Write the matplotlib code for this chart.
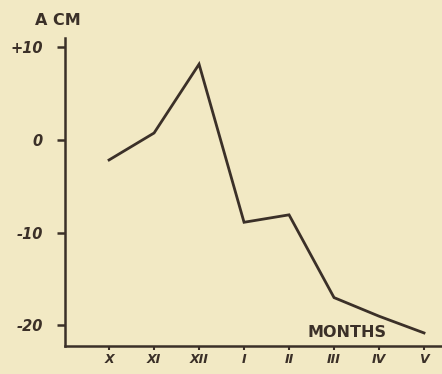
import numpy as np
import matplotlib
matplotlib.use('Agg')
import matplotlib.pyplot as plt

# monthly values
months = ['X', 'XI', 'XII', 'I', 'II', 'III', 'IV', 'V']
level_cm = [-2.2, 0.7, 8.1, -8.9, -8.1, -17.0, -19.0, -20.8]
yticks = [10, 0, -10, -20]
ytick_labels = ['+10', '0', '-10', '-20']

bg = '#f2e9c4'
ink = '#3b3028'

fig = plt.figure(figsize=(4.42, 3.74), dpi=100, facecolor=bg)
ax = fig.add_axes([0.147, 0.075, 0.851, 0.823], facecolor=bg)

x = np.arange(len(months))
ax.plot(x, level_cm, color=ink, lw=2.0, solid_joinstyle='miter')

ax.set_xlim(-0.98, 7.38)
ax.set_ylim(-22.2, 10.9)

for s in ['top', 'right']:
    ax.spines[s].set_visible(False)
for s in ['left', 'bottom']:
    ax.spines[s].set_color(ink)
    ax.spines[s].set_linewidth(1.8)

ax.set_xticks(x)
ax.set_xticklabels(months, fontstyle='italic', fontweight='bold',
                   fontsize=9, color=ink)
ax.set_yticks(yticks)
ax.set_yticklabels(ytick_labels, fontstyle='italic', fontweight='bold',
                   fontsize=10.5, color=ink)
ax.tick_params(axis='x', direction='out', length=3, width=1.5,
               color=ink, pad=2)
ax.tick_params(axis='y', direction='out', length=6, width=1.8,
               color=ink, pad=10)

fig.text(0.131, 0.945, 'A CM', fontsize=11.5, fontweight='bold',
         color=ink, ha='center', va='center')
ax.text(4.42, -20.8, 'MONTHS', fontsize=11.5, fontweight='bold',
        color=ink, ha='left', va='center')

fig.savefig('out.png', dpi=100, facecolor=bg)
